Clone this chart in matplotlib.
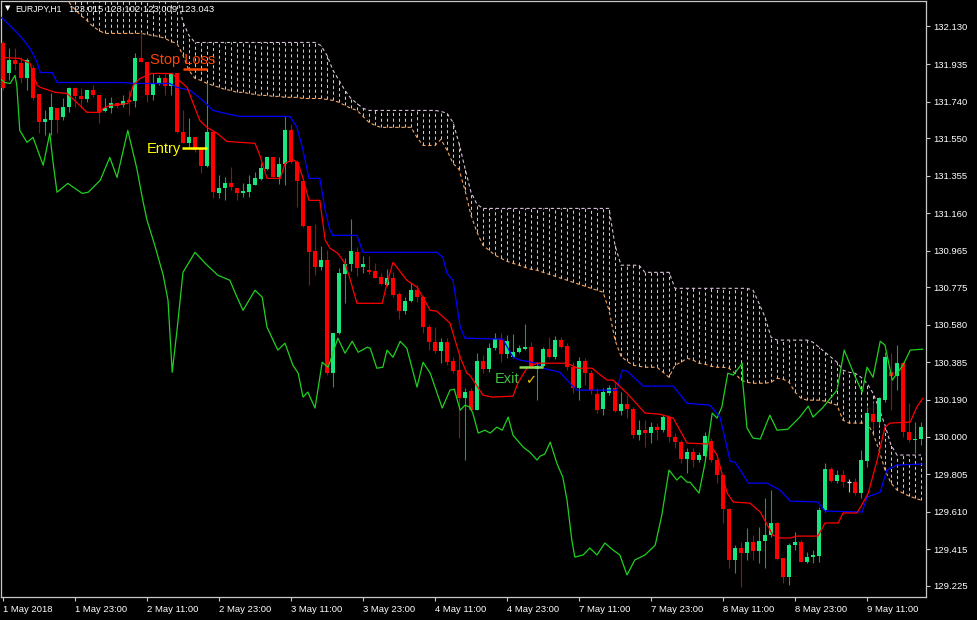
import numpy as np
import matplotlib
matplotlib.use("Agg")
import matplotlib.pyplot as plt

plt.rcParams['font.family'] = ['Liberation Sans', 'DejaVu Sans']

# EURJPY H1 candles (bar 0 = 1 May 2018 11:00)
opens = [
    132.042, 131.886, 131.954, 131.938, 131.865, 131.912, 131.777, 131.632, 131.642, 131.705,
    131.658, 131.710, 131.808, 131.767, 131.751, 131.798, 131.772, 131.689, 131.705, 131.730,
    131.720, 131.746, 131.741, 131.964, 131.943, 131.772, 131.834, 131.860, 131.819, 131.886,
    131.580, 131.523, 131.554, 131.497, 131.403, 131.580, 131.263, 131.289, 131.315, 131.289,
    131.263, 131.269, 131.305, 131.336, 131.388, 131.450, 131.346, 131.414, 131.590, 131.424,
    131.326, 131.092, 130.962, 130.879, 130.916, 130.329, 130.537, 130.843, 130.895, 130.957,
    130.879, 130.864, 130.858, 130.827, 130.786, 130.822, 130.739, 130.651, 130.703, 130.760,
    130.724, 130.568, 130.490, 130.443, 130.490, 130.391, 130.345, 130.199, 130.236, 130.137,
    130.391, 130.350, 130.459, 130.506, 130.428, 130.412, 130.438, 130.454, 130.464, 130.350,
    130.365, 130.454, 130.412, 130.501, 130.469, 130.360, 130.251, 130.391, 130.329, 130.220,
    130.142, 130.225, 130.251, 130.132, 130.168, 130.142, 130.007, 130.033, 130.018, 130.049,
    130.033, 130.101, 129.997, 129.971, 129.883, 129.919, 129.878, 129.898, 129.976, 129.878,
    129.800, 129.623, 129.359, 129.421, 129.395, 129.452, 129.405, 129.457, 129.488, 129.551,
    129.369, 129.270, 129.436, 129.452, 129.348, 129.374, 129.379, 129.618, 129.831, 129.769,
    129.800, 129.766, 129.763, 129.706, 129.872, 130.116, 130.075, 130.189, 130.334, 130.314,
    130.381, 130.023, 129.981, 129.987]
highs = [
    132.057, 132.016, 132.016, 131.969, 131.964, 131.928, 131.777, 131.694, 131.782, 131.705,
    131.756, 131.814, 131.814, 131.808, 131.798, 131.824, 131.772, 131.756, 131.762, 131.736,
    131.772, 131.798, 131.990, 132.099, 131.943, 131.886, 131.876, 131.886, 131.886, 131.886,
    131.694, 131.653, 131.554, 131.497, 131.834, 131.580, 131.357, 131.346, 131.398, 131.289,
    131.315, 131.357, 131.372, 131.419, 131.450, 131.450, 131.450, 131.663, 131.621, 131.435,
    131.326, 131.092, 131.102, 130.988, 130.968, 130.537, 130.874, 130.926, 131.128, 130.983,
    130.936, 130.936, 130.900, 130.848, 130.869, 130.853, 130.750, 130.724, 130.796, 130.786,
    130.734, 130.578, 130.568, 130.511, 130.511, 130.412, 130.433, 130.251, 130.251, 130.433,
    130.423, 130.485, 130.537, 130.537, 130.526, 130.532, 130.475, 130.583, 130.490, 130.386,
    130.464, 130.516, 130.521, 130.516, 130.485, 130.386, 130.412, 130.407, 130.345, 130.251,
    130.251, 130.267, 130.282, 130.231, 130.215, 130.153, 130.085, 130.085, 130.075, 130.070,
    130.111, 130.111, 130.018, 129.981, 129.940, 129.940, 129.919, 130.023, 129.992, 129.888,
    129.800, 129.628, 129.436, 129.452, 129.525, 129.488, 129.530, 129.680, 129.722, 129.556,
    129.369, 129.447, 129.504, 129.462, 129.400, 129.410, 129.634, 129.862, 129.841, 129.826,
    129.826, 129.779, 129.784, 129.930, 130.153, 130.179, 130.205, 130.438, 130.433, 130.475,
    130.386, 130.173, 130.075, 130.075]
lows = [
    131.798, 131.850, 131.902, 131.839, 131.798, 131.746, 131.575, 131.564, 131.564, 131.575,
    131.642, 131.684, 131.710, 131.705, 131.736, 131.762, 131.627, 131.684, 131.679, 131.705,
    131.710, 131.668, 131.710, 131.943, 131.736, 131.746, 131.824, 131.772, 131.772, 131.575,
    131.523, 131.497, 131.476, 131.367, 131.398, 131.237, 131.237, 131.227, 131.279, 131.227,
    131.243, 131.243, 131.305, 131.331, 131.383, 131.341, 131.310, 131.305, 131.419, 131.191,
    131.087, 130.786, 130.838, 130.864, 130.319, 130.257, 130.532, 130.692, 130.858, 130.833,
    130.848, 130.843, 130.822, 130.786, 130.781, 130.724, 130.609, 130.635, 130.698, 130.698,
    130.537, 130.449, 130.433, 130.381, 130.371, 130.329, 129.992, 129.878, 130.137, 130.137,
    130.329, 130.334, 130.449, 130.386, 130.407, 130.407, 130.433, 130.449, 130.355, 130.189,
    130.360, 130.407, 130.402, 130.459, 130.345, 130.225, 130.189, 130.267, 130.220, 130.122,
    130.111, 130.215, 130.127, 130.111, 130.096, 129.992, 129.981, 129.945, 129.966, 129.981,
    130.023, 129.971, 129.940, 129.862, 129.810, 129.841, 129.867, 129.888, 129.867, 129.758,
    129.551, 129.317, 129.291, 129.218, 129.359, 129.359, 129.343, 129.317, 129.478, 129.359,
    129.239, 129.229, 129.410, 129.348, 129.343, 129.343, 129.348, 129.608, 129.763, 129.758,
    129.737, 129.711, 129.696, 129.680, 129.841, 130.033, 130.059, 130.179, 130.137, 130.241,
    129.997, 129.971, 129.914, 129.955]
closes = [
    131.808, 131.954, 131.933, 131.865, 131.954, 131.756, 131.632, 131.647, 131.710, 131.642,
    131.710, 131.808, 131.767, 131.751, 131.798, 131.772, 131.684, 131.705, 131.730, 131.715,
    131.741, 131.736, 131.964, 131.943, 131.772, 131.834, 131.860, 131.819, 131.886, 131.580,
    131.523, 131.554, 131.487, 131.403, 131.580, 131.269, 131.289, 131.315, 131.295, 131.263,
    131.274, 131.310, 131.341, 131.393, 131.450, 131.346, 131.414, 131.590, 131.424, 131.326,
    131.092, 130.957, 130.879, 130.916, 130.329, 130.537, 130.848, 130.895, 130.962, 130.874,
    130.895, 130.853, 130.822, 130.791, 130.822, 130.734, 130.651, 130.703, 130.760, 130.724,
    130.568, 130.490, 130.443, 130.490, 130.386, 130.340, 130.199, 130.231, 130.137, 130.391,
    130.350, 130.459, 130.506, 130.428, 130.495, 130.438, 130.459, 130.464, 130.360, 130.365,
    130.454, 130.412, 130.501, 130.464, 130.360, 130.251, 130.391, 130.329, 130.236, 130.137,
    130.231, 130.251, 130.132, 130.168, 130.142, 130.007, 130.033, 130.018, 130.049, 130.033,
    130.101, 129.997, 129.971, 129.883, 129.919, 129.878, 129.904, 130.002, 129.878, 129.800,
    129.623, 129.359, 129.421, 129.395, 129.452, 129.405, 129.457, 129.488, 129.551, 129.364,
    129.270, 129.436, 129.452, 129.348, 129.374, 129.385, 129.618, 129.831, 129.769, 129.800,
    129.763, 129.766, 129.706, 129.878, 130.122, 130.075, 130.199, 130.412, 130.314, 130.381,
    130.023, 129.981, 129.987, 130.049]

# ichimoku cloud, one value per bar
span_a = ([132.33] * 10 + [
    132.275, 132.255, 132.218, 132.187, 132.161, 132.130, 132.109, 132.094, 132.094, 132.094,
    132.094, 132.094, 132.094, 132.094, 132.089, 132.083, 132.078, 132.068, 132.052, 132.042,
    131.980, 131.902, 131.860, 131.850, 131.834, 131.824, 131.814, 131.803, 131.798, 131.788,
    131.788, 131.782, 131.777, 131.772, 131.772, 131.767, 131.767, 131.762, 131.762, 131.762,
    131.756, 131.756, 131.756, 131.756, 131.751, 131.746, 131.736, 131.720, 131.705, 131.694,
    131.663, 131.632, 131.616, 131.606, 131.606, 131.606, 131.606, 131.606, 131.606, 131.554,
    131.512, 131.512, 131.512, 131.544, 131.487, 131.419, 131.388, 131.279, 131.149, 131.061,
    130.993, 130.968, 130.942, 130.926, 130.910, 130.900, 130.890, 130.879, 130.869, 130.864,
    130.853, 130.843, 130.833, 130.822, 130.812, 130.801, 130.791, 130.781, 130.770, 130.760,
    130.750, 130.656, 130.501, 130.417, 130.391, 130.371, 130.365, 130.360, 130.360, 130.360,
    130.334, 130.308, 130.371, 130.386, 130.407, 130.397, 130.381, 130.376, 130.365, 130.360,
    130.360, 130.355, 130.329, 130.293, 130.282, 130.277, 130.277, 130.277, 130.282, 130.303,
    130.298, 130.282, 130.231, 130.199, 130.189, 130.189, 130.189, 130.184, 130.173, 130.163,
    130.085, 130.070, 130.070, 130.070, 130.070, 130.018, 129.930, 129.826, 129.758, 129.722,
    129.706, 129.691, 129.680, 129.670])
span_b = ([132.42] * 29 + [132.291, 132.151, 132.083] + [132.047] * 21 + [
    132.031, 131.980, 131.902, 131.850, 131.798, 131.756, 131.730, 131.705]
    + [131.694] * 12 + [131.689, 131.679, 131.632, 131.523, 131.393, 131.269, 131.206]
    + [131.185] * 22 + [130.993] + [130.890] * 4 + [130.853] * 5 + [130.770] * 13
    + [130.760, 130.692, 130.620, 130.516] + [130.501] * 6
    + [130.490, 130.464, 130.438, 130.412, 130.386, 130.345, 130.334, 130.329, 130.308,
       130.277, 130.225, 130.147, 130.059, 129.955] + [129.904] * 5)

tenkan_bar = [0.0, 2.8, 4.5, 5.0, 5.7, 6.2, 8.7, 10.7, 12.8, 14.0, 16.2, 16.7, 17.8, 20.8,
              21.7, 22.8, 24.8, 28.2, 29.0, 30.7, 31.7, 32.8, 34.0, 35.7, 37.3, 42.0, 42.8,
              44.0, 46.2, 47.0, 48.3, 49.2, 50.0, 51.0, 52.8, 53.7, 54.5, 55.8, 57.0, 57.8,
              59.0, 63.2, 64.0, 65.0, 67.3, 69.0, 71.2, 72.3, 74.5, 76.2, 77.3, 77.8, 80.0,
              81.5, 85.0, 85.8, 87.3, 89.0, 94.0, 95.8, 98.2, 99.0, 100.7, 101.7, 104.0,
              107.0, 109.5, 111.7, 114.0, 117.8, 119.0, 120.7, 121.7, 124.5, 126.2, 128.3,
              129.5, 131.2, 132.3, 135.8, 137.0, 139.2, 140.0, 142.3, 143.3, 144.2, 145.7,
              147.0, 147.8, 151.2, 152.3, 153.3]
tenkan = [131.969, 131.964, 131.938, 131.886, 131.824, 131.814, 131.788, 131.782, 131.720,
          131.684, 131.684, 131.705, 131.720, 131.730, 131.824, 131.860, 131.886, 131.886,
          131.860, 131.814, 131.730, 131.642, 131.606, 131.575, 131.533, 131.523, 131.461,
          131.341, 131.341, 131.419, 131.440, 131.419, 131.341, 131.227, 131.227, 131.020,
          130.978, 130.952, 130.900, 130.822, 130.692, 130.692, 130.796, 130.905, 130.812,
          130.776, 130.656, 130.651, 130.589, 130.412, 130.329, 130.319, 130.215, 130.205,
          130.210, 130.277, 130.355, 130.381, 130.381, 130.355, 130.355, 130.334, 130.293,
          130.293, 130.225, 130.122, 130.116, 130.096, 129.966, 129.961, 129.904, 129.706,
          129.660, 129.654, 129.608, 129.488, 129.473, 129.473, 129.483, 129.483, 129.551,
          129.551, 129.603, 129.603, 129.654, 129.706, 129.878, 130.049, 130.070, 130.075,
          130.153, 130.199]

kijun_bar = [-0.5, 0.3, 2.8, 4.5, 5.7, 6.2, 8.2, 9.0, 20.0, 21.7, 27.8, 29.0, 31.2, 33.3,
             35.0, 37.8, 39.5, 47.8, 49.0, 50.0, 51.0, 52.8, 53.7, 54.5, 55.0, 59.0, 60.0,
             72.3, 73.3, 74.0, 75.0, 76.2, 77.0, 83.3, 85.0, 86.2, 89.0, 90.0, 92.8, 94.8,
             95.7, 102.3, 103.2, 104.0, 106.7, 111.7, 114.0, 117.8, 119.5, 121.2, 122.0,
             123.2, 124.2, 127.3, 129.5, 131.2, 135.8, 137.0, 143.2, 144.0, 146.2, 147.3,
             149.0, 153.3]
kijun = [132.182, 132.161, 132.083, 132.016, 131.943, 131.891, 131.891, 131.839, 131.839,
         131.834, 131.834, 131.814, 131.798, 131.746, 131.694, 131.673, 131.663, 131.663,
         131.606, 131.487, 131.341, 131.341, 131.176, 131.071, 131.045, 131.045, 130.957,
         130.957, 130.931, 130.848, 130.812, 130.568, 130.511, 130.506, 130.412, 130.397,
         130.381, 130.355, 130.334, 130.267, 130.241, 130.241, 130.345, 130.340, 130.262,
         130.262, 130.173, 130.163, 130.101, 129.872, 129.867, 129.810, 129.758, 129.758,
         129.722, 129.665, 129.660, 129.613, 129.608, 129.686, 129.711, 129.826, 129.852,
         129.857]

chikou_bar = [
    -0.5, 0.3, 1.2, 2.0, 2.3, 2.8, 4.0, 5.0, 6.7, 7.8,
    8.3, 9.0, 10.8, 13.2, 14.2, 16.2, 17.8, 19.0, 20.8, 22.3,
    23.3, 24.0, 25.3, 26.7, 27.5, 28.2, 29.0, 30.0, 32.0, 33.7,
    35.8, 37.8, 39.0, 40.0, 42.0, 43.2, 44.0, 45.8, 47.0, 48.3,
    49.2, 50.0, 50.8, 52.0, 53.2, 54.2, 55.8, 57.0, 58.2, 59.2,
    60.7, 61.2, 62.3, 63.3, 64.0, 65.0, 66.2, 67.3, 69.0, 70.0,
    71.2, 73.2, 74.5, 75.2, 76.2, 77.0, 77.8, 78.3, 79.2, 80.3,
    81.2, 82.3, 83.2, 84.2, 85.0, 86.7, 87.8, 89.0, 89.5, 90.3,
    91.2, 92.3, 92.8, 93.3, 94.0, 94.8, 95.3, 96.7, 97.8, 99.0,
    100.3, 101.7, 102.8, 104.0, 105.3, 107.0, 108.7, 109.8, 111.0, 112.3,
    113.0, 114.0, 114.5, 116.0, 117.0, 118.2, 119.0, 119.8, 120.8, 121.7,
    123.2, 123.3, 124.0, 125.0, 126.2, 127.8, 129.0, 130.8, 132.8, 134.2,
    135.0, 136.7, 139.0, 140.2, 141.7, 143.2, 144.0, 145.0, 146.2, 147.0,
    148.2, 150.0, 151.2, 153.3]
chikou = [
    131.860, 131.839, 131.834, 131.876, 131.824, 131.590, 131.528, 131.554, 131.409, 131.575,
    131.435, 131.269, 131.315, 131.263, 131.269, 131.331, 131.450, 131.346, 131.590, 131.393,
    131.227, 131.124, 130.993, 130.838, 130.708, 130.334, 130.552, 130.853, 130.957, 130.900,
    130.838, 130.812, 130.724, 130.656, 130.760, 130.724, 130.568, 130.449, 130.485, 130.371,
    130.329, 130.205, 130.231, 130.148, 130.386, 130.360, 130.511, 130.433, 130.495, 130.438,
    130.464, 130.459, 130.355, 130.360, 130.449, 130.412, 130.495, 130.459, 130.257, 130.386,
    130.329, 130.148, 130.241, 130.246, 130.137, 130.163, 130.153, 130.122, 130.018, 130.033,
    130.018, 130.049, 130.033, 130.101, 130.007, 129.945, 129.919, 129.878, 129.898, 129.909,
    129.971, 129.862, 129.826, 129.789, 129.670, 129.462, 129.374, 129.385, 129.421, 129.385,
    129.447, 129.410, 129.385, 129.281, 129.359, 129.385, 129.436, 129.592, 129.826, 129.774,
    129.795, 129.763, 129.763, 129.706, 129.862, 130.122, 130.096, 130.153, 130.329, 130.319,
    130.381, 130.277, 130.044, 129.992, 129.987, 130.111, 130.033, 130.038, 130.101, 130.158,
    130.101, 130.153, 130.241, 130.449, 130.334, 130.231, 130.360, 130.308, 130.495, 130.475,
    130.293, 130.371, 130.449, 130.454]

# trade marks
stop_loss = 131.907
entry = 131.497
exit_price = 130.360

ytick_vals = [132.130, 131.935, 131.740, 131.550, 131.355, 131.160, 130.965, 130.775,
              130.580, 130.385, 130.190, 130.000, 129.805, 129.610, 129.415, 129.225]
xtick_bars = [0, 12, 24, 36, 48, 60, 72, 84, 96, 108, 120, 132, 144]
xtick_labels = ['1 May 2018', '1 May 23:00', '2 May 11:00', '2 May 23:00', '3 May 11:00',
                '3 May 23:00', '4 May 11:00', '4 May 23:00', '7 May 11:00', '7 May 23:00',
                '8 May 11:00', '8 May 23:00', '9 May 11:00']

o = np.array(opens)
h = np.array(highs)
l = np.array(lows)
c = np.array(closes)
x = np.arange(len(o))

fig = plt.figure(figsize=(9.77, 6.2), dpi=100, facecolor='black')
ax = fig.add_axes([1 / 977, 23 / 620, 925 / 977, 596.5 / 620], facecolor='black')

dots = (0, (3, 2.5))
# cloud hatching + spans
ax.vlines(x, span_a, span_b, colors='#D8BFD8', linewidth=0.75, linestyles=[dots], zorder=1)
ax.plot(x, span_a, color='#F4A460', lw=0.8, ls=dots, zorder=2)
ax.plot(x, span_b, color='#D8BFD8', lw=0.8, ls=dots, zorder=2)

up = c > o
dn = c < o
dj = c == o
w = 0.68
ax.vlines(x[up], l[up], h[up], color='#1C9A52', lw=0.8, zorder=3)
ax.vlines(x[dn], l[dn], h[dn], color='#C00000', lw=0.8, zorder=3)
ax.vlines(x[dj], l[dj], h[dj], color='#C0C0C0', lw=0.8, zorder=3)
ax.bar(x[up], c[up] - o[up], bottom=o[up], width=w, color='#1AE680', lw=0, zorder=4)
ax.bar(x[dn], o[dn] - c[dn], bottom=c[dn], width=w, color='#FF0000', lw=0, zorder=4)
ax.hlines(o[dj], x[dj] - w / 2, x[dj] + w / 2, color='#E0E0E0', lw=1, zorder=4)

ax.plot(chikou_bar, chikou, color='#20D020', lw=0.9, zorder=5)
ax.plot(kijun_bar, kijun, color='#0000FF', lw=0.9, zorder=5)
ax.plot(tenkan_bar, tenkan, color='#FF0000', lw=0.9, zorder=5)

# annotations
ax.hlines(stop_loss, 30, 34, color='#FF4500', lw=1.8, zorder=6)
ax.text(24.5, 131.933, 'Stop Loss', color='#FF4500', fontsize=10.5, va='baseline', ha='left', zorder=6)
ax.hlines(entry, 29.8, 34, color='#FFFF00', lw=1.8, zorder=6)
ax.text(29.7, 131.471, 'Entry', color='#FFFF00', fontsize=10.5, va='baseline', ha='right', zorder=6)
ax.hlines(exit_price, 86, 90, color='#88DD55', lw=1.8, zorder=6)
ax.text(82, 130.277, 'Exit', color='#44C044', fontsize=10.5, va='baseline', ha='left', zorder=6)
ax.text(88, 130.290, '\u2713', color='#F0C800', fontsize=9.5, fontweight='bold',
        va='center', ha='center', zorder=6)

ax.set_xlim(-0.333, 153.83)
ax.set_ylim(129.1666, 132.265)

ax.yaxis.tick_right()
ax.set_yticks(ytick_vals)
ax.set_yticklabels(['%.3f' % v for v in ytick_vals])
ax.set_xticks(xtick_bars)
ax.set_xticklabels(xtick_labels)
for lbl in ax.get_xticklabels():
    lbl.set_horizontalalignment('left')
ax.tick_params(axis='y', colors='#C8C8C8', labelcolor='white', labelsize=6.8,
               length=3, width=0.8, pad=2.5)
ax.tick_params(axis='x', colors='#C8C8C8', labelcolor='white', labelsize=6.8,
               length=3, width=0.8, pad=3)
for s in ax.spines.values():
    s.set_color('#C8C8C8')
    s.set_linewidth(0.9)

# header
fig.text(8 / 977, 1 - 8 / 620, '\u25BC', color='white', fontsize=5, ha='center', va='center',
         family='DejaVu Sans')
fig.text(15 / 977, 1 - 9 / 620, 'EURJPY,H1', color='white', fontsize=6.2, va='center')
fig.text(69 / 977, 1 - 9 / 620, '123.015 123.102 123.009 123.043', color='white',
         fontsize=6.8, va='center')

fig.savefig('out.png', dpi=100, facecolor='black')
